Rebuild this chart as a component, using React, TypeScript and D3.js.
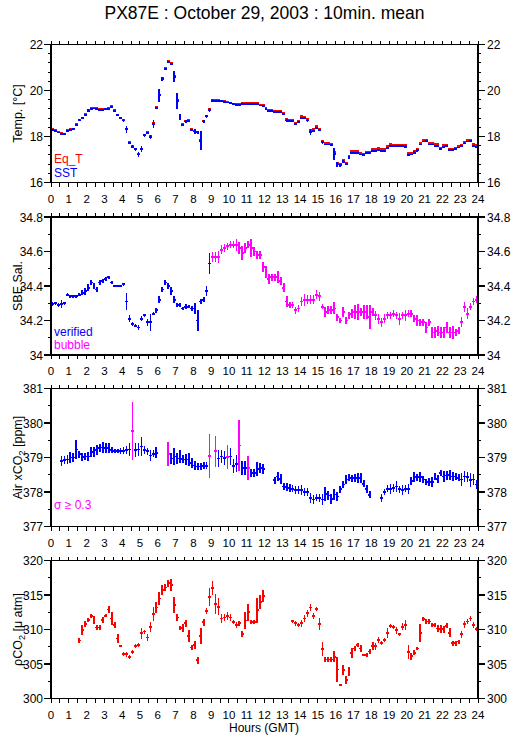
import React from 'react';
import * as d3 from 'd3';

const TITLE = 'PX87E : October 29, 2003 : 10min. mean';
const HOUR_TICKS = d3.range(0, 25);
const STEP = 1 / 6;

// Panel 1: temperature
const eqT = [
  18.31, 18.28, 18.20, 18.15, 18.13, 18.28,
  18.33, 18.35, 18.53, 18.73, 18.83, 18.98,
  19.15, 19.23, 19.25, 19.23, 19.18, 19.19,
  19.21, 19.23, 19.31, 19.15, 18.95, 18.83,
  18.73, 18.35, 17.75, 17.58, 17.48, 17.25,
  17.48, 18.08, 18.18, 18.01, 18.58, 19.27,
  19.83, 20.53, 20.98, 21.28, 21.18, 20.63,
  19.60, 18.88, 18.53, 18.69, 18.71, 18.31,
  18.26, 18.21, 17.86, 18.69, 18.91, 19.18,
  19.58, 19.58, 19.58, 19.56, 19.53, 19.51,
  19.48, 19.43, 19.42, 19.42, 19.44, 19.46,
  19.46, 19.46, 19.46, 19.44, 19.39, 19.37,
  19.25, 19.17, 19.15, 19.13, 19.13, 19.10,
  19.02, 18.76, 18.74, 18.73, 18.61, 18.68,
  18.88, 18.86, 18.76, 18.28, 18.31, 18.45,
  18.34, 17.82, 17.72, 17.71, 17.68, 17.32,
  16.85, 16.82, 16.97, 16.87, 17.14, 17.37,
  17.37, 17.37, 17.29, 17.25, 17.35, 17.35,
  17.45, 17.45, 17.49, 17.45, 17.45, 17.57,
  17.67, 17.65, 17.65, 17.65, 17.65, 17.62,
  17.27, 17.29, 17.37, 17.47, 17.72, 17.85,
  17.87, 17.72, 17.72, 17.67, 17.67, 17.52,
  17.62, 17.65, 17.47, 17.47, 17.52, 17.59,
  17.65, 17.77, 17.85, 17.87, 17.67, 17.62,
];
const eqTErr = [
  .02, .02, .02, .02, .02, .02, .02, .02, .03, .02, .02, .02,
  .03, .02, .02, .02, .02, .02, .02, .02, .02, .03, .02, .03,
  .04, .06, .03, .03, .03, .03, .05, .03, .02, .03, .06, .03,
  .06, .03, .02, .02, .02, .06, .08, .05, .03, .03, .03, .03,
  .04, .03, .10, .03, .03, .03, .03, .02, .02, .02, .02, .02,
  .02, .02, .02, .02, .02, .02, .02, .02, .02, .02, .02, .02,
  .02, .02, .02, .02, .02, .02, .03, .03, .02, .02, .03, .02,
  .02, .03, .03, .05, .03, .02, .03, .03, .02, .02, .02, .06,
  .04, .03, .03, .03, .03, .02, .02, .02, .02, .02, .02, .02,
  .02, .02, .02, .02, .02, .02, .02, .02, .02, .02, .02, .03,
  .03, .02, .03, .03, .02, .02, .02, .02, .02, .02, .02, .02,
  .03, .02, .02, .02, .02, .02, .02, .02, .02, .02, .03, .03,
];
const sst = [
  18.28, 18.25, 18.17, 18.12, 18.10, 18.25,
  18.30, 18.32, 18.50, 18.70, 18.80, 18.95,
  19.12, 19.20, 19.22, 19.20, 19.15, 19.15,
  19.18, 19.20, 19.28, 19.12, 18.92, 18.80,
  18.70, 18.32, 17.72, 17.55, 17.45, 17.22,
  17.45, 18.05, 18.15, 17.98, 18.55, 19.25,
  19.80, 20.50, 20.95, 21.25, 21.15, 20.60,
  19.55, 18.85, 18.50, 18.65, 18.68, 18.28,
  18.22, 18.18, 17.82, 18.65, 18.88, 19.15,
  19.55, 19.55, 19.55, 19.53, 19.50, 19.48,
  19.45, 19.40, 19.38, 19.38, 19.40, 19.42,
  19.42, 19.42, 19.42, 19.40, 19.35, 19.32,
  19.20, 19.12, 19.10, 19.08, 19.08, 19.05,
  18.97, 18.70, 18.68, 18.68, 18.55, 18.62,
  18.82, 18.80, 18.70, 18.20, 18.25, 18.38,
  18.28, 17.75, 17.65, 17.65, 17.62, 17.25,
  16.78, 16.75, 16.90, 16.80, 17.08, 17.30,
  17.30, 17.30, 17.22, 17.18, 17.28, 17.28,
  17.38, 17.38, 17.42, 17.38, 17.38, 17.50,
  17.60, 17.58, 17.58, 17.58, 17.58, 17.55,
  17.20, 17.22, 17.30, 17.40, 17.65, 17.78,
  17.80, 17.65, 17.65, 17.60, 17.60, 17.45,
  17.55, 17.58, 17.40, 17.40, 17.45, 17.52,
  17.58, 17.70, 17.78, 17.80, 17.60, 17.55,
];
const sstErr = [
  .04, .03, .03, .04, .03, .05, .03, .04, .06, .04, .05, .04,
  .06, .04, .03, .03, .04, .03, .03, .03, .03, .05, .04, .06,
  .08, .15, .05, .06, .06, .12, .12, .08, .05, .08, .18, .05,
  .28, .08, .05, .03, .03, .25, .35, .12, .06, .08, .05, .06,
  .10, .06, .42, .08, .06, .08, .06, .04, .03, .03, .03, .03,
  .03, .03, .03, .03, .03, .03, .03, .03, .03, .03, .03, .03,
  .03, .03, .04, .03, .03, .03, .05, .06, .04, .04, .05, .04,
  .04, .05, .06, .13, .05, .04, .05, .06, .04, .04, .04, .27,
  .12, .06, .06, .05, .07, .04, .03, .03, .04, .04, .04, .04,
  .03, .04, .04, .04, .03, .04, .04, .04, .04, .03, .03, .07,
  .05, .04, .05, .06, .04, .04, .04, .04, .03, .03, .03, .04,
  .05, .04, .04, .04, .04, .04, .04, .04, .04, .04, .05, .05,
];

// Panel 2: salinity (first BUBBLE_START points verified, rest bubble)
const BUBBLE_START = 54;
const sal = [
  34.295, 34.30, 34.29, 34.295, 34.30, 34.35,
  34.34, 34.34, 34.34, 34.35, 34.36, 34.37,
  34.39, 34.42, 34.40, 34.38, 34.42, 34.43,
  34.44, 34.45, 34.42, 34.40, 34.40, 34.40,
  34.41, 34.31, 34.21, 34.18, 34.17, 34.16,
  34.21, 34.23, 34.19, 34.19, 34.24, 34.26,
  34.32, 34.38, 34.42, 34.40, 34.37, 34.32,
  34.29, 34.29, 34.27, 34.28, 34.28, 34.27,
  34.27, 34.20, 34.31, 34.32, 34.37, 34.53,
  34.57, 34.57, 34.57, 34.61, 34.62, 34.63,
  34.64, 34.64, 34.64, 34.62, 34.59, 34.62,
  34.64, 34.62, 34.60, 34.58, 34.58, 34.51,
  34.48, 34.44, 34.45, 34.45, 34.45, 34.43,
  34.39, 34.31, 34.29, 34.29, 34.26, 34.27,
  34.31, 34.32, 34.32, 34.32, 34.32, 34.35,
  34.34, 34.28, 34.25, 34.26, 34.26, 34.27,
  34.22, 34.20, 34.25, 34.20, 34.23, 34.24,
  34.25, 34.25, 34.25, 34.25, 34.25, 34.22,
  34.25, 34.23, 34.21, 34.19, 34.21, 34.23,
  34.23, 34.24, 34.23, 34.21, 34.23, 34.23,
  34.24, 34.24, 34.21, 34.20, 34.19, 34.19,
  34.16, 34.19, 34.13, 34.13, 34.14, 34.13,
  34.13, 34.16, 34.13, 34.13, 34.13, 34.14,
  34.19, 34.28, 34.24, 34.28, 34.31, 34.32,
];
const salErr = [
  .01, .01, .01, .025, .01, .01,
  .008, .008, .008, .01, .015, .02,
  .02, .015, .02, .015, .015, .01,
  .01, .008, .01, .008, .008, .008,
  .008, .05, .02, .01, .01, .015,
  .015, .01, .02, .05, .01, .015,
  .02, .015, .015, .02, .025, .02,
  .01, .01, .01, .015, .01, .015,
  .03, .06, .015, .015, .03, .06,
  .03, .03, .035, .025, .025, .02,
  .02, .02, .035, .035, .04, .03,
  .02, .05, .025, .025, .025, .03,
  .035, .03, .02, .02, .035, .025,
  .025, .03, .02, .02, .02, .02,
  .025, .035, .025, .025, .025, .025,
  .025, .015, .03, .025, .025, .035,
  .02, .015, .03, .02, .02, .025,
  .04, .045, .025, .04, .04, .07,
  .025, .025, .03, .025, .025, .02,
  .02, .02, .02, .035, .02, .03,
  .02, .02, .02, .03, .02, .02,
  .03, .02, .03, .03, .03, .03,
  .03, .03, .03, .04, .02, .02,
  .03, .03, .03, .02, .02, .02,
];

// Panel 3: atmospheric xCO2 (sigma >= 0.3 flagged)
const SIGMA_LIMIT = 0.3;
const xco2: (number | null)[] = [
  null, null, null, 378.89, 378.92, 378.94,
  379.00, 379.00, 379.23, 379.09, 379.01, 379.03,
  379.03, 379.16, 379.16, 379.21, 379.27, 379.29,
  379.27, 379.27, 379.21, 379.19, 379.19, 379.19,
  379.19, 379.21, 379.23, 379.76, 379.21, 379.23,
  379.32, 379.21, 379.18, 379.06, 379.11, 379.14,
  null, null, null, 379.11, 378.97, 379.03,
  378.97, 379.03, 378.95, 378.94, 378.94, 378.84,
  378.77, 378.74, 378.74, 378.76, 378.76, 379.05,
  null, 379.18, 378.97, 379.03, 378.99, 379.02,
  379.03, 378.75, 378.82, 379.35, 378.69, 378.69,
  378.69, 378.55, 378.55, 378.67, 378.69, 378.66,
  null, null, null, 378.34, 378.45, 378.38,
  378.16, 378.14, 378.11, 378.09, 378.05, 378.05,
  378.05, 378.00, 378.00, 377.83, 377.78, 377.83,
  377.83, 377.78, 377.95, 377.90, 377.80, 377.93,
  377.87, 378.08, 378.22, 378.36, 378.43, 378.40,
  378.40, 378.40, 378.41, 378.24, 378.09, 377.92,
  null, null, null, 377.82, 378.00, 378.09,
  378.09, 378.12, 378.16, 378.08, 378.05, 378.09,
  378.09, 378.32, 378.43, 378.43, 378.43, 378.36,
  378.29, 378.29, 378.29, 378.45, 378.38, 378.55,
  378.45, 378.48, 378.50, 378.45, 378.45, 378.41,
  378.36, 378.45, 378.43, 378.34, 378.36, 378.22,
];
const xco2Err = [
  0, 0, 0, .15, .12, .12,
  .15, .12, .27, .10, .12, .10,
  .12, .15, .15, .15, .12, .15,
  .15, .15, .08, .06, .06, .08,
  .10, .12, .20, .84, .20, .20,
  .27, .12, .10, .15, .10, .15,
  0, 0, 0, .35, .15, .25,
  .15, .20, .12, .15, .20, .15,
  .12, .10, .10, .10, .10, .63,
  0, .45, .25, .20, .20, .35,
  .25, .20, .25, .75, .20, .20,
  .35, .12, .12, .20, .15, .15,
  0, 0, 0, .10, .12, .15,
  .10, .12, .12, .10, .12, .12,
  .15, .12, .12, .15, .12, .10,
  .12, .15, .20, .12, .15, .15,
  .12, .10, .10, .12, .10, .10,
  .12, .15, .15, .10, .12, .10,
  0, 0, 0, .12, .10, .10,
  .15, .12, .15, .10, .15, .10,
  .15, .12, .15, .10, .15, .10,
  .10, .12, .15, .10, .12, .10,
  .15, .12, .15, .12, .10, .10,
  .20, .15, .15, .20, .15, .12,
];

// Panel 4: pCO2
const pco2: (number | null)[] = [
  null, null, null, null, null, null,
  null, null, null, 308.4, 309.9, 310.8,
  311.4, 312.0, 311.4, 310.3, 310.3, 311.4,
  312.0, 312.9, 311.6, 310.65, 308.7, 307.6,
  306.5, 306.4, 306.05, 306.7, 307.6, 307.75,
  309.45, 309.7, 308.85, 310.4, 312.25, 313.2,
  314.5, 315.7, 316.1, 316.7, 316.45, 313.55,
  311.75, 310.2, 310.2, 310.9, 309.05, 307.4,
  307.75, 305.55, 309.05, 311.05, 312.7, 314.75,
  316.0, 313.7, 313.3, 311.6, 311.75, 311.95,
  311.75, 311.1, 310.65, 310.9, 309.35, 311.3,
  312.5, 311.05, 311.05, 312.8, 314.0, 314.85,
  null, null, null, null, null, null,
  null, null, null, 311.2, 310.9, 310.65,
  310.9, 311.6, 312.35, 313.2, 311.95, 313.0,
  310.8, 307.15, 305.65, 305.65, 305.65, 306.05,
  304.2, 301.95, 304.1, 302.65, 303.9, 306.55,
  307.25, 307.75, 307.25, 306.3, 306.3, 306.8,
  307.6, 307.6, 308.5, 308.0, 308.5, 309.45,
  310.55, 310.4, 309.9, 309.3, 310.4, 310.65,
  306.7, 306.15, 306.65, 307.25, 309.55, 311.5,
  311.15, 311.15, 310.65, 310.65, 310.15, 310.05,
  310.05, 310.55, 309.55, 308.0, 308.0, 308.25,
  309.3, 310.75, 311.15, 311.6, 310.65, 310.05,
];
const pco2Err = [
  0, 0, 0, 0, 0, 0,
  0, 0, 0, .4, .7, .4,
  .3, .3, .6, .3, .3, .4,
  .2, .5, 1.0, .5, .7, .2,
  .3, .4, .3, .3, .3, .3,
  .8, .3, .5, .7, 1.0, .8,
  .9, .7, .5, .5, .9, 1.1,
  .5, .3, .6, .5, .9, .3,
  .6, .5, 1.2, .5, .4, 1.3,
  1.0, 1.4, 1.2, .6, .5, .6,
  .5, .3, .5, .4, .4, 1.2,
  1.2, .3, .3, 1.8, 1.0, .9,
  0, 0, 0, 0, 0, 0,
  0, 0, 0, .2, .4, .3,
  .5, .5, .5, .5, .4, .3,
  .8, 1.0, .4, .4, .4, .8,
  1.8, .2, .7, .6, .6, .7,
  .4, .3, .5, .2, .3, .4,
  .6, .5, .4, .3, .3, .7,
  .3, .3, .5, .2, .5, .7,
  1.0, .5, .4, .2, 1.3, .3,
  .3, .3, .3, .3, .5, .6,
  .5, .4, .6, .4, .4, .3,
  .5, .5, .4, .4, .5, .3,
];

const RED = '#ff0000';
const BLUE = '#0000ff';
const MAGENTA = '#ff00ff';
const FONT = "'Liberation Sans', Arial, Helvetica, sans-serif";

const X0 = 51;
const X1 = 478;
const PANEL_H = 138;
const TOPS = [44.5, 217, 388.5, 560.5];

type Series = { values: (number | null)[]; errs: number[]; color: (i: number, e: number) => string };

type PanelDef = {
  domain: [number, number];
  major: number;
  minor: number;
  label: React.ReactNode;
  series: Series[];
  legend: { text: string; color: string; y: number }[];
};

function fmt(v: number) {
  return String(+v.toFixed(2));
}

function Panel({ def, top, x }: { def: PanelDef; top: number; x: d3.ScaleLinear<number, number> }) {
  const y = d3.scaleLinear().domain(def.domain).range([top + PANEL_H, top]);
  const [lo, hi] = def.domain;
  const nMinor = Math.round((hi - lo) / def.minor);
  const minorVals = d3.range(0, nMinor + 1).map((k) => lo + k * def.minor);
  const nMajor = Math.round((hi - lo) / def.major);
  const majorVals = d3.range(0, nMajor + 1).map((k) => lo + k * def.major);
  const halfHours = d3.range(0, 49).map((k) => k / 2);
  const bottom = top + PANEL_H;
  return (
    <g>
      {/* data */}
      {def.series.map((s, si) => (
        <g key={si}>
          {s.values.map((v, i) => {
            if (v === null || v === undefined) return null;
            const e = s.errs[i] || 0;
            const c = s.color(i, e);
            const xa = x(i * STEP);
            const xb = x((i + 1) * STEP);
            const xm = x((i + 0.5) * STEP);
            return (
              <g key={i} stroke={c}>
                <line x1={xa} x2={xb} y1={y(v)} y2={y(v)} strokeWidth={1.8} />
                <line x1={xm} x2={xm} y1={y(v - e)} y2={y(v + e)} strokeWidth={1.6} />
              </g>
            );
          })}
        </g>
      ))}
      {/* frame */}
      <rect x={X0} y={top} width={X1 - X0} height={PANEL_H} fill="none" stroke="#000" strokeWidth={1.2} />
      {/* x ticks */}
      {halfHours.map((h) => (
        <g key={h} stroke="#000" strokeWidth={1}>
          <line x1={x(h)} x2={x(h)} y1={top} y2={top - 4} />
          <line x1={x(h)} x2={x(h)} y1={bottom} y2={bottom + 4} />
        </g>
      ))}
      {/* x labels */}
      {HOUR_TICKS.map((h) => (
        <text key={h} x={x(h)} y={bottom + 20} textAnchor="middle" fontSize={11.5} fontFamily={FONT} fill="#000">
          {h}
        </text>
      ))}
      {/* y ticks */}
      {minorVals.map((v, k) => (
        <g key={'m' + k} stroke="#000" strokeWidth={1}>
          <line x1={X0} x2={X0 - 3} y1={y(v)} y2={y(v)} />
          <line x1={X1} x2={X1 + 3} y1={y(v)} y2={y(v)} />
        </g>
      ))}
      {majorVals.map((v, k) => (
        <g key={'M' + k}>
          <line x1={X0} x2={X0 - 7} y1={y(v)} y2={y(v)} stroke="#000" strokeWidth={1.2} />
          <line x1={X1} x2={X1 + 7} y1={y(v)} y2={y(v)} stroke="#000" strokeWidth={1.2} />
          <text x={X0 - 8} y={y(v) + 4.5} textAnchor="end" fontSize={12} fontFamily={FONT} fill="#000">
            {fmt(v)}
          </text>
          <text x={X1 + 9} y={y(v) + 4.5} textAnchor="start" fontSize={12} fontFamily={FONT} fill="#000">
            {fmt(v)}
          </text>
        </g>
      ))}
      {/* y label */}
      <text
        transform={`translate(22,${top + PANEL_H / 2}) rotate(-90)`}
        textAnchor="middle"
        fontSize={12.5}
        fontFamily={FONT}
        fill="#000"
      >
        {def.label}
      </text>
      {def.legend.map((l) => (
        <text key={l.text} x={X0 + 3} y={top + l.y} fontSize={12} fontFamily={FONT} fill={l.color}>
          {l.text}
        </text>
      ))}
    </g>
  );
}

export default function App() {
  const x = d3.scaleLinear().domain([0, 24]).range([X0, X1]);
  const panels: PanelDef[] = [
    {
      domain: [16, 22],
      major: 2,
      minor: 0.4,
      label: 'Temp. [°C]',
      series: [
        { values: eqT, errs: eqTErr, color: () => RED },
        { values: sst, errs: sstErr, color: () => BLUE },
      ],
      legend: [
        { text: 'Eq_T', color: RED, y: 118 },
        { text: 'SST', color: BLUE, y: 132 },
      ],
    },
    {
      domain: [34, 34.8],
      major: 0.2,
      minor: 0.1,
      label: 'SBE Sal.',
      series: [{ values: sal, errs: salErr, color: (i) => (i < BUBBLE_START ? BLUE : MAGENTA) }],
      legend: [
        { text: 'verified', color: BLUE, y: 119 },
        { text: 'bubble', color: MAGENTA, y: 132 },
      ],
    },
    {
      domain: [377, 381],
      major: 1,
      minor: 0.5,
      label: (
        <>
          Air xCO
          <tspan fontSize={9} dy={3}>2</tspan>
          <tspan dy={-3}> [ppm]</tspan>
        </>
      ),
      series: [{ values: xco2, errs: xco2Err, color: (_i, e) => (e >= SIGMA_LIMIT ? MAGENTA : BLUE) }],
      legend: [{ text: 'σ ≥ 0.3', color: MAGENTA, y: 120 }],
    },
    {
      domain: [300, 320],
      major: 5,
      minor: 2.5,
      label: (
        <>
          ρCO
          <tspan fontSize={9} dy={3}>2</tspan>
          <tspan dy={-3}> [μ atm]</tspan>
        </>
      ),
      series: [{ values: pco2, errs: pco2Err, color: () => RED }],
      legend: [],
    },
  ];
  return (
    <svg
      width={515}
      height={739}
      style={{ position: 'absolute', left: 0, top: 0, background: '#fff' }}
      shapeRendering="crispEdges"
    >
      <rect x={0} y={0} width={515} height={739} fill="#fff" />
      <text x={264.5} y={19} textAnchor="middle" fontSize={17.5} fontFamily={FONT} fill="#000">
        {TITLE}
      </text>
      {panels.map((p, k) => (
        <Panel key={k} def={p} top={TOPS[k]} x={x} />
      ))}
      <text x={264} y={732} textAnchor="middle" fontSize={12} fontFamily={FONT} fill="#000">
        Hours (GMT)
      </text>
    </svg>
  );
}
